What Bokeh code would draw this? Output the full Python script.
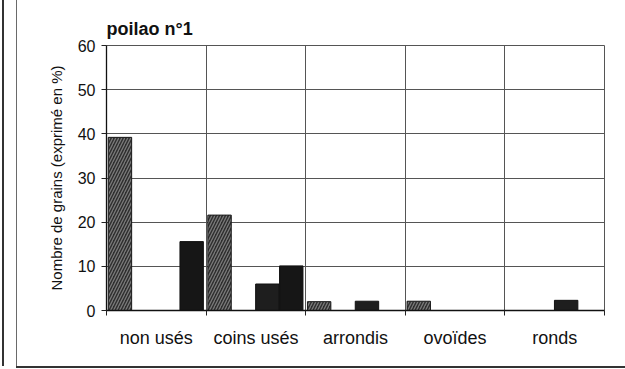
from bokeh.plotting import figure
from bokeh.models import FixedTicker, Range1d
from bokeh.embed import file_html
from bokeh.resources import INLINE

# ---- data ----
categories = ["non usés", "coins usés", "arrondis", "ovoïdes", "ronds"]
serie_hachuree = [39.2, 21.6, 2.0, 2.1, 0.0]
serie_vide = [0.0, 0.0, 0.0, 0.0, 0.0]
serie_noire_a = [0.0, 6.0, 2.1, 0.0, 2.3]
serie_noire_b = [15.6, 10.1, 0.0, 0.0, 0.0]
y_ticks = [0, 10, 20, 30, 40, 50, 60]
title_text = "poilao n°1"
y_label = "Nombre de grains (exprimé en %)"

FONT = "Liberation Sans"
n = len(categories)

p = figure(width=608, height=366, output_backend="svg", toolbar_location=None,
           x_range=Range1d(0, n), y_range=Range1d(0, 60),
           frame_width=498, frame_height=265,
           min_border_left=89, min_border_right=21,
           min_border_top=45, min_border_bottom=56)
p.background_fill_color = "white"
p.border_fill_color = "white"
p.outline_line_color = "#555555"
p.outline_line_width = 1
# frame of the scanned chart box
p.styles = {
    "margin-left": "16px",
    "margin-top": "0px",
    "border-left": "1px solid #6a6a6a",
    "box-shadow": ("0 2px 0 0 #333333, "
                   "-12px 0 0 0 #ffffff, -14px 0 0 0 #333333"),
}

# title
p.title.text = title_text
p.title.text_font = FONT
p.title.text_font_size = "18px"
p.title.text_font_style = "bold"
p.title.text_color = "#111111"
p.title.align = "left"
p.title.standoff = 14

# bars
slot_w = 0.24
bar_w = 0.235
series = [serie_hachuree, serie_vide, serie_noire_a, serie_noire_b]
for s, vals in enumerate(series):
    xs = [i + 0.135 + slot_w * s for i in range(n)]
    tops = list(vals)
    if s == 0:
        p.vbar(x=xs, top=tops, bottom=0, width=bar_w,
               fill_color="#2e2e2e", line_color="#1a1a1a", line_width=1,
               hatch_pattern="/", hatch_color="#7a7a7a", hatch_scale=6,
               hatch_weight=1.3)
    elif s == 1:
        continue
    else:
        p.vbar(x=xs, top=tops, bottom=0, width=bar_w,
               fill_color="#1e1e1e" if s == 2 else "#161616",
               line_color="#111111", line_width=1)

# x axis: labels at category centers, tick marks at boundaries
xt = FixedTicker(ticks=[i + 0.5 for i in range(n)], minor_ticks=list(range(n + 1)))
p.xaxis.ticker = xt
p.xaxis.major_label_overrides = {i + 0.5: c for i, c in enumerate(categories)}
p.xaxis.major_tick_out = 0
p.xaxis.major_tick_in = 0
p.xaxis.minor_tick_out = 5
p.xaxis.minor_tick_in = 0
p.xaxis.minor_tick_line_color = "#222222"
p.xaxis.axis_line_color = "#111111"
p.xaxis.axis_line_width = 1.3
p.xaxis.major_label_text_font = FONT
p.xaxis.major_label_text_font_size = "18px"
p.xaxis.major_label_text_color = "#111111"
p.xaxis.major_label_standoff = 12

# y axis
p.yaxis.ticker = FixedTicker(ticks=y_ticks)
p.yaxis.major_tick_out = 5
p.yaxis.major_tick_in = 0
p.yaxis.minor_tick_line_color = None
p.yaxis.axis_line_color = "#111111"
p.yaxis.axis_line_width = 1.3
p.yaxis.major_tick_line_color = "#222222"
p.yaxis.major_label_text_font = FONT
p.yaxis.major_label_text_font_size = "16px"
p.yaxis.major_label_text_color = "#111111"
p.yaxis.major_label_standoff = 6
p.yaxis.axis_label = y_label
p.yaxis.axis_label_text_font = FONT
p.yaxis.axis_label_text_font_size = "15px"
p.yaxis.axis_label_text_font_style = "normal"
p.yaxis.axis_label_text_color = "#111111"
p.yaxis.axis_label_standoff = 10

# grids
p.xgrid.ticker = FixedTicker(ticks=list(range(n + 1)))
p.xgrid.grid_line_color = "#555555"
p.xgrid.grid_line_width = 1
p.ygrid.ticker = FixedTicker(ticks=y_ticks)
p.ygrid.grid_line_color = "#555555"
p.ygrid.grid_line_width = 1

open("out.html", "w").write(file_html(p, INLINE))
